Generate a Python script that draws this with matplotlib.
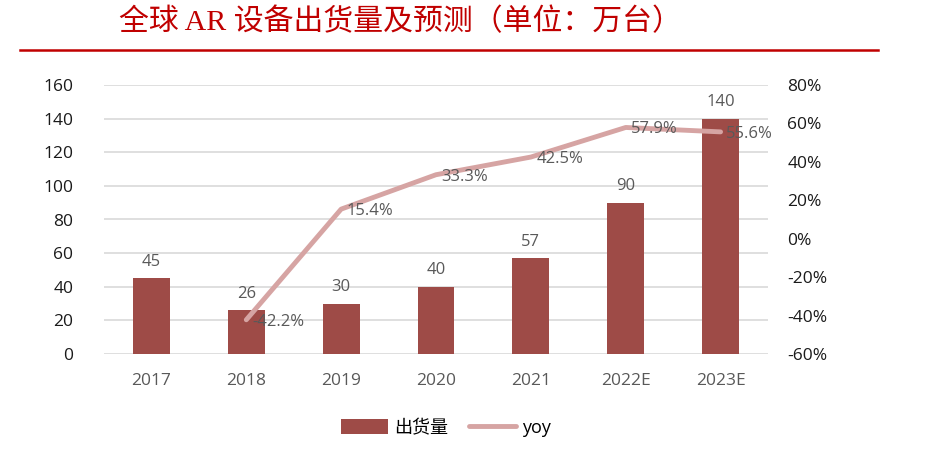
import numpy as np
import matplotlib.pyplot as plt
from matplotlib.ticker import FuncFormatter

plt.rcParams['font.family'] = ['Open Sans', 'Noto Sans CJK SC', 'DejaVu Sans']

# ---------- data ----------
years = ['2017', '2018', '2019', '2020', '2021', '2022E', '2023E']
shipments = [45, 26, 30, 40, 57, 90, 140]
yoy_years = ['2018', '2019', '2020', '2021', '2022E', '2023E']
yoy = [-42.2, 15.4, 33.3, 42.5, 57.9, 55.6]

bar_color = '#9E4B47'
line_color = '#D6A4A3'
text_gray = '#595959'

fig = plt.figure(figsize=(9.48, 4.65), dpi=100)
ax = fig.add_axes([104 / 948, 1 - 354 / 465, 664 / 948, 269 / 465])
ax2 = ax.twinx()

x = np.arange(len(years))
bars = ax.bar(x, shipments, width=0.39, color=bar_color, zorder=2, label='出货量')
for xi, v in zip(x, shipments):
    ax.text(xi, v + 5, str(v), ha='center', va='bottom', fontsize=12, color=text_gray)

xl = [years.index(y) for y in yoy_years]
line, = ax2.plot(xl, yoy, color=line_color, lw=3.5, solid_capstyle='round', zorder=3, label='yoy')
for xi, v in zip(xl, yoy):
    ax2.text(xi + 0.06, v - 1, f'{v:.1f}%', ha='left', va='center', fontsize=12,
             color=text_gray, zorder=5)

ax.set_ylim(0, 160)
ax.set_yticks(range(0, 161, 20))
ax2.set_ylim(-60, 80)
ax2.set_yticks(range(-60, 81, 20))
ax2.yaxis.set_major_formatter(FuncFormatter(lambda v, p: f'{v:.0f}%'))
ax.set_xlim(-0.5, len(years) - 0.5)
ax.set_xticks(x)
ax.set_xticklabels(years, color=text_gray)

ax.grid(axis='y', color='#D9D9D9', lw=1.2, zorder=0)
ax.set_axisbelow(True)
for a in (ax, ax2):
    for s in a.spines.values():
        s.set_visible(False)
    a.tick_params(length=0, labelsize=12.5, labelcolor='#1a1a1a')
ax.tick_params(axis='x', pad=14, labelcolor=text_gray)
ax.tick_params(axis='y', pad=22)
ax2.tick_params(axis='y', pad=14)
ax.set_zorder(ax2.get_zorder() - 1)
ax.patch.set_visible(False)

fig.legend(handles=[bars, line], labels=['出货量', 'yoy'], loc='center',
           bbox_to_anchor=(446 / 948, 1 - 428 / 465), ncol=2, frameon=False,
           fontsize=13, handlelength=2.6, handleheight=0.9, columnspacing=1.2,
           handletextpad=0.3)

# title and rule
fig.text(119 / 948, 1 - 22 / 465, '全球 AR 设备出货量及预测（单位：万台）',
         ha='left', va='center', fontsize=21.5, color='#C00000',
         family=['Liberation Serif', 'Noto Sans CJK SC'])
fig.add_artist(plt.Line2D([20 / 948, 878 / 948], [1 - 50 / 465] * 2,
                          color='#C00000', lw=1.8))

fig.savefig('out.png', dpi=100)
